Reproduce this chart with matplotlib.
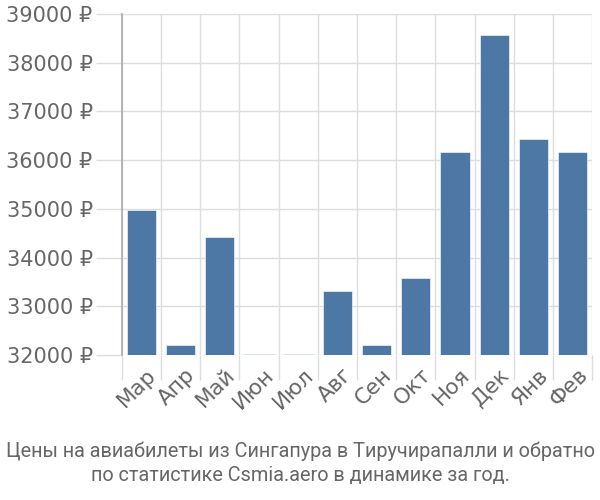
import matplotlib
matplotlib.use("Agg")
import matplotlib.pyplot as plt
import numpy as np
from matplotlib.ticker import FixedLocator, FuncFormatter

months = ["Мар", "Апр", "Май", "Июн", "Июл", "Авг", "Сен", "Окт", "Ноя", "Дек", "Янв", "Фев"]
prices = [34970, 32200, 34420, 32020, 32020, 33310, 32200, 33580, 36170, 38570, 36440, 36170]
yticks = [32000, 33000, 34000, 35000, 36000, 37000, 38000, 39000]
title = "Цены на авиабилеты из Сингапура в Тиручирапалли и обратно\nпо статистике Csmia.aero в динамике за год."

plt.rcParams['font.family'] = ['DejaVu Sans']
fig = plt.figure(figsize=(6, 5), dpi=100)
ax = fig.add_axes([0.203, 0.29, 0.784, 0.682])

x = np.arange(len(months))
ax.bar(x, prices, width=0.74, color="#4d78a6", edgecolor="white", linewidth=0.4, zorder=3)

ax.set_xlim(-0.5, len(months) - 0.5)
ax.set_ylim(32000, 39000)
ax.yaxis.set_major_locator(FixedLocator(yticks))
ax.yaxis.set_major_formatter(FuncFormatter(lambda v, p: f"{int(v)} ₽"))
ax.set_xticks(x + 0.12)
ax.set_xticklabels(months, rotation=45, ha="right", rotation_mode="anchor")
ax.set_xticks(np.arange(-0.5, len(months)), minor=True)

gridc = "#dddddd"
ax.grid(True, axis="y", which="major", color=gridc, linewidth=1, zorder=0)
ax.grid(True, axis="x", which="minor", color=gridc, linewidth=1, zorder=0)
ax.tick_params(axis="x", which="major", length=0, pad=7, labelsize=15.5, labelcolor="#666666")
ax.tick_params(axis="x", which="minor", length=18, color=gridc, width=1)
ax.tick_params(axis="y", which="major", length=19, color=gridc, width=1, pad=2, labelsize=15, labelcolor="#666666")

for s in ["top", "right", "bottom"]:
    ax.spines[s].set_visible(False)
ax.spines["left"].set_color("#aaaaaa")
ax.spines["left"].set_linewidth(1.2)

fig.text(0.5, 0.03, title, ha="center", va="bottom", fontsize=14.3, color="#666666",
         family=["Roboto", "DejaVu Sans"], linespacing=1.32)

fig.savefig("out.png", dpi=100)
